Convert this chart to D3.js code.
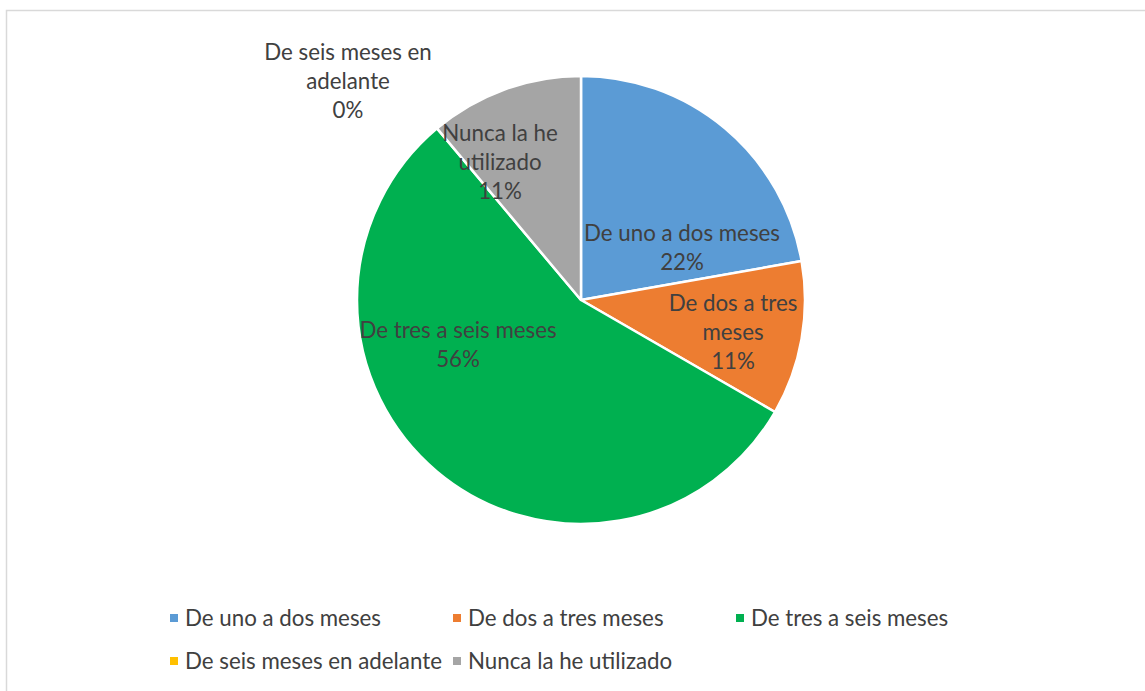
<!DOCTYPE html>
<html>
<head>
<meta charset="utf-8">
<script src="https://cdn.jsdelivr.net/npm/d3@7"></script>
<style>
  body { margin: 0; background: #fff; }
  text { font-family: Lato, "Liberation Sans", sans-serif; fill: #404040; }
</style>
</head>
<body>
<script>
// data (9 answers)
var categories = ["De uno a dos meses", "De dos a tres meses", "De tres a seis meses",
                  "De seis meses en adelante", "Nunca la he utilizado"];
var counts = [2, 1, 5, 0, 1];
var colors = ["#5b9bd5", "#ed7d31", "#00b050", "#ffc000", "#a5a5a5"];
// label lines as Excel wrapped them
var labelLines = [["De uno a dos meses"], ["De dos a tres", "meses"], ["De tres a seis meses"],
                  ["De seis meses en", "adelante"], ["Nunca la he", "utilizado"]];

var width = 1145, height = 691,
    cx = 581, cy = 300, radius = 224;

// best-fit label spots, offset from pie centre
var labelPos = [[101, -52], [152, 32], [-123, 45], [-233, -219], [-81, -138]];

var svg = d3.select("body").append("svg")
    .attr("width", width)
    .attr("height", height);

svg.append("rect")
    .attr("x", 6.5).attr("y", 10.5)
    .attr("width", width + 10).attr("height", height + 10)
    .attr("fill", "#fff")
    .attr("stroke", "#d9d9d9")
    .attr("stroke-width", 1.5);

var total = d3.sum(counts);
var color = d3.scaleOrdinal().domain(categories).range(colors);
var pct = function(v) { return Math.round(v / total * 100) + "%"; };

var pie = d3.pie().sort(null).value(function(d) { return d.value; });
var arc = d3.arc().innerRadius(0).outerRadius(radius);

var data = categories.map(function(c, i) { return {name: c, value: counts[i], i: i}; });
var arcs = pie(data);

var g = svg.append("g").attr("transform", "translate(" + cx + "," + cy + ")");

g.selectAll("path")
    .data(arcs.filter(function(d) { return d.data.value > 0; }))
    .enter().append("path")
    .attr("d", arc)
    .attr("fill", function(d) { return color(d.data.name); })
    .attr("stroke", "#fff")
    .attr("stroke-width", 2.5)
    .attr("stroke-linejoin", "round");

var lineH = 29;
arcs.forEach(function(d) {
  var i = d.data.i,
      lines = labelLines[i].concat([pct(d.data.value)]),
      p = labelPos[i],
      top = p[1] - (lines.length - 1) * lineH / 2;
  var t = g.append("text")
      .attr("text-anchor", "middle")
      .style("font-size", "22.3px");
  lines.forEach(function(s, k) {
    t.append("tspan")
        .attr("x", p[0])
        .attr("y", top + k * lineH)
        .attr("dy", "0.35em")
        .text(s);
  });
});

// legend
var legendX = [170, 453, 736], legendY = [618, 661];
var leg = svg.selectAll(".leg")
    .data(categories)
    .enter().append("g")
    .attr("class", "leg")
    .attr("transform", function(d, i) {
      return "translate(" + legendX[i % 3] + "," + legendY[Math.floor(i / 3)] + ")";
    });

leg.append("rect")
    .attr("x", 0).attr("y", -4)
    .attr("width", 8).attr("height", 8)
    .attr("fill", function(d) { return color(d); });

leg.append("text")
    .attr("x", 15)
    .attr("dy", "0.35em")
    .style("font-size", "22.3px")
    .text(function(d) { return d; });
</script>
</body>
</html>
